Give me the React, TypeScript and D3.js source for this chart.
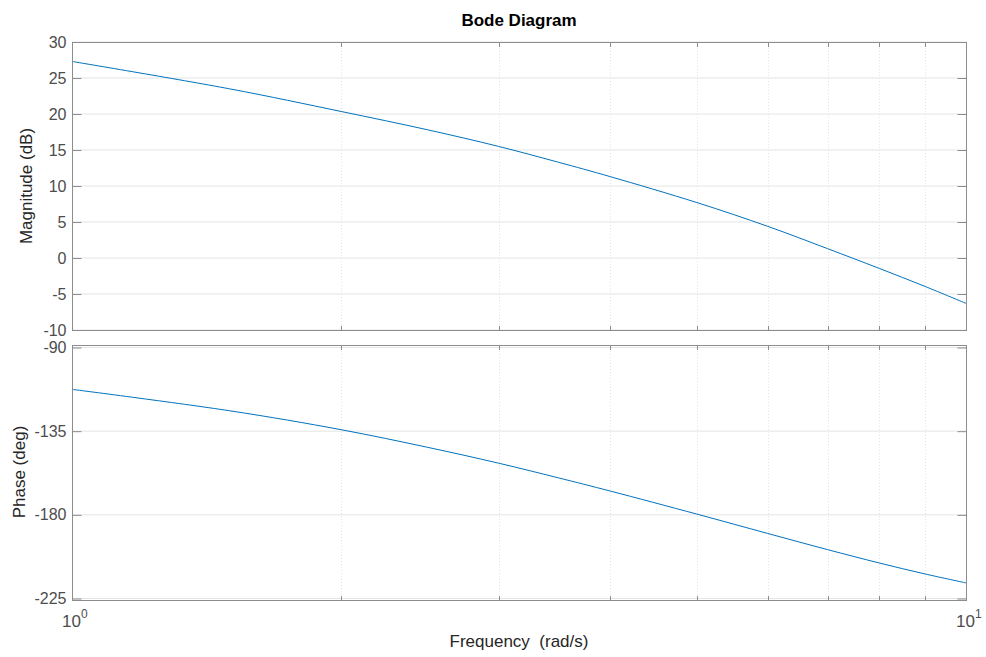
import React, { useRef, useEffect } from 'react';
import * as d3 from 'd3';

// values
const frequency = [1, 1.5, 2, 2.5, 3, 3.5, 4, 5, 6, 7, 8, 9, 10];
const magnitudeDb = [27.3, 23.5, 20.35, 17.8, 15.5, 13.3, 11.3, 7.7, 4.4, 1.3, -1.45, -3.95, -6.3];
const phaseDeg = [-112.5, -124.0, -134.2, -143.7, -152.2, -160.1, -167.2, -179.6, -190.0, -198.7, -205.9, -211.8, -216.6];
const magTicks = [-10, -5, 0, 5, 10, 15, 20, 25, 30];
const phaseTicks = [-225, -180, -135, -90];
const minorFreq = [2, 3, 4, 5, 6, 7, 8, 9];
const decadeTicks = [1, 10];

const App = () => {
  const ref = useRef<SVGSVGElement | null>(null);

  useEffect(() => {
    const svg = d3.select(ref.current);
    svg.selectAll('*').remove();

    const left = 72;
    const right = 966;
    const font = 'Liberation Sans, Arial, Helvetica, sans-serif';
    const boxColor = '#8c8c8c';
    const gridColor = '#e4e4e4';

    const x = d3.scaleLog().domain([1, 10]).range([left, right]);
    const yMag = d3.scaleLinear().domain([-10, 30]).range([330, 42]);
    const yPh = d3.scaleLinear().domain([-225.8, -88.65]).range([600, 345]);

    const drawPanel = (y: d3.ScaleLinear<number, number>, ticks: number[], values: number[]) => {
      const [bottom, top] = y.range();
      const g = svg.append('g');

      // horizontal grid
      g.selectAll('line.hgrid')
        .data(ticks)
        .enter()
        .append('line')
        .attr('x1', left)
        .attr('x2', right)
        .attr('y1', d => y(d))
        .attr('y2', d => y(d))
        .attr('stroke', gridColor)
        .attr('stroke-width', 1);

      // vertical dotted grid at minor decades
      g.selectAll('line.vgrid')
        .data(minorFreq)
        .enter()
        .append('line')
        .attr('x1', d => Math.round(x(d)) + 0.5)
        .attr('x2', d => Math.round(x(d)) + 0.5)
        .attr('y1', top)
        .attr('y2', bottom)
        .attr('stroke', gridColor)
        .attr('stroke-dasharray', '1,2');

      // curve
      const line = d3.line<number>()
        .x((_, i) => x(frequency[i]))
        .y(d => y(d))
        .curve(d3.curveCatmullRom.alpha(0.5));

      g.append('path')
        .datum(values)
        .attr('d', line)
        .attr('fill', 'none')
        .attr('stroke', '#0072BD')
        .attr('stroke-width', 1);

      // box
      g.append('rect')
        .attr('x', left + 0.5)
        .attr('y', top + 0.5)
        .attr('width', right - left)
        .attr('height', bottom - top)
        .attr('fill', 'none')
        .attr('stroke', boxColor)
        .attr('stroke-width', 1);

      // y ticks, left and right, pointing inward
      g.append('g')
        .attr('transform', `translate(${left + 0.5},0)`)
        .call(d3.axisLeft(y).tickValues(ticks).tickSize(-9).tickPadding(6).tickFormat(d => String(d)))
        .call(a => a.select('.domain').remove())
        .call(a => a.selectAll('line').attr('stroke', boxColor))
        .call(a => a.selectAll('text').attr('fill', '#4d4d4d').attr('font-size', 16).attr('font-family', font));

      g.append('g')
        .attr('transform', `translate(${right + 0.5},0)`)
        .call(d3.axisRight(y).tickValues(ticks).tickSize(-9).tickFormat(() => ''))
        .call(a => a.select('.domain').remove())
        .call(a => a.selectAll('line').attr('stroke', boxColor));

      // x minor ticks on top and bottom edges
      [top + 0.5, bottom + 0.5].forEach((yy, k) => {
        g.selectAll(`line.xt${k}`)
          .data(minorFreq)
          .enter()
          .append('line')
          .attr('x1', d => Math.round(x(d)) + 0.5)
          .attr('x2', d => Math.round(x(d)) + 0.5)
          .attr('y1', yy)
          .attr('y2', k === 0 ? yy + 4.5 : yy - 4.5)
          .attr('stroke', boxColor);
      });
    };

    drawPanel(yMag, magTicks, magnitudeDb);
    drawPanel(yPh, phaseTicks, phaseDeg);

    // decade labels
    const dec = svg.append('g').attr('font-family', font).attr('fill', '#4d4d4d');
    decadeTicks.forEach(d => {
      const t = dec.append('text')
        .attr('x', x(d) - 10)
        .attr('y', 627)
        .attr('font-size', 17);
      t.append('tspan').text('10');
      t.append('tspan').attr('dy', -9).attr('font-size', 12).text(String(Math.round(Math.log10(d))));
    });

    // title and labels
    svg.append('text')
      .attr('x', 519)
      .attr('y', 26)
      .attr('text-anchor', 'middle')
      .attr('font-family', font)
      .attr('font-weight', 'bold')
      .attr('font-size', 17)
      .attr('fill', '#000')
      .text('Bode Diagram');

    svg.append('text')
      .attr('x', 519)
      .attr('y', 647)
      .attr('text-anchor', 'middle')
      .attr('font-family', font)
      .attr('font-size', 17)
      .attr('fill', '#262626')
      .style('white-space', 'pre')
      .text('Frequency  (rad/s)');

    svg.append('text')
      .attr('transform', `translate(32,186) rotate(-90)`)
      .attr('text-anchor', 'middle')
      .attr('font-family', font)
      .attr('font-size', 17)
      .attr('fill', '#262626')
      .text('Magnitude (dB)');

    svg.append('text')
      .attr('transform', `translate(25,472) rotate(-90)`)
      .attr('text-anchor', 'middle')
      .attr('font-family', font)
      .attr('font-size', 17)
      .attr('fill', '#262626')
      .text('Phase (deg)');
  }, []);

  return (
    <svg
      ref={ref}
      width={986}
      height={657}
      style={{ position: 'absolute', left: 0, top: 0, background: '#fff' }}
    />
  );
};

export default App;
